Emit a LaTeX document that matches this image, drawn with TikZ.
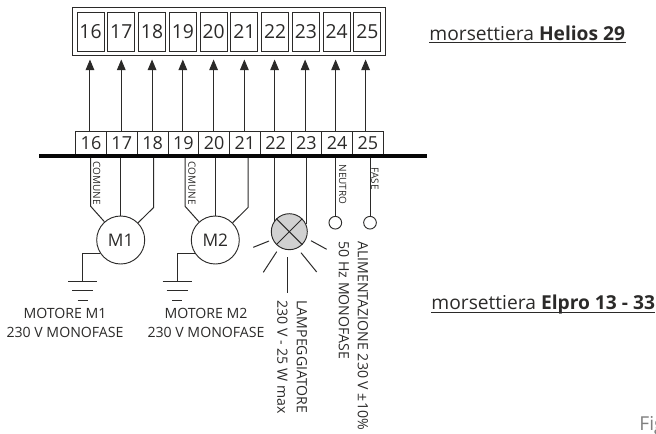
\documentclass[tikz,border=0pt]{standalone}
\usepackage{fontspec}
\setmainfont{Open Sans}
\usetikzlibrary{arrows.meta,fit,positioning}
\definecolor{ink}{HTML}{2B2A29}
\begin{document}
\begin{tikzpicture}[x=0.75pt,y=-0.75pt,node distance=23.08pt,color=ink,line width=0.7pt,
    topbox/.style={draw,inner sep=0pt,minimum width=20.25pt,minimum height=29.25pt,font=\fontsize{14.5}{14.5}\selectfont},
    lowbox/.style={draw,line width=0.5pt,inner sep=0pt,minimum width=23.08pt,minimum height=18pt,font=\fontsize{13.5}{13.5}\selectfont},
    wire/.style={line width=0.75pt},
    tip/.style={-{Triangle[length=8pt,width=6.5pt]},shorten >=6pt},
    motor/.style={draw,circle,inner sep=0pt,minimum size=36pt,font=\fontsize{13}{13}\selectfont},
    pole/.style={draw,circle,inner sep=0pt,minimum size=9.5pt},
    small/.style={rotate=-90,anchor=west,inner sep=0pt,font=\fontsize{7.5}{7.5}\selectfont},
    side/.style={rotate=-90,anchor=west,inner sep=0pt,font=\fontsize{10.6}{10.6}\selectfont},
    caption/.style={align=center,font=\fontsize{10.6}{14.2}\selectfont},
    title/.style={anchor=base west,inner sep=0pt,font=\fontsize{14.4}{14.4}\selectfont}]
  \useasboundingbox (0,0) rectangle (656,433);
  \node [topbox] (t16) at (90.5,31.5) {16};
  \node [lowbox] (b16) at (91,143) {16};
  \foreach \n [remember=\n as \p (initially 16)] in {17,...,25} {
    \node [topbox, right of=t\p] (t\n) {\n};
    \node [lowbox, right of=b\p] (b\n) {\n};
  }
  \node [draw, fit=(t16)(t25), inner sep=3pt] (helios) {};
  \foreach \n/\d in {16/-0.4,17/0,18/0,19/0,20/0,21/0,22/-0.4,23/-0.6,24/-0.8,25/-1.4}
    \draw [wire, tip] ([xshift=\d pt]t\n.south |- b\n.north) -- ([xshift=\d pt]t\n.south);

  \node [motor] (M1) at (120.7,240) {M1};
  \node [motor] (M2) at (215.3,240) {M2};
  \node [draw, circle, fill=black!18, inner sep=0pt, minimum size=27pt] (lamp) at (289.3,231.7) {};
  \node [pole] (n24) at (335.3,222.7) {};
  \node [pole] (n25) at (370,222.7) {};

  \draw [wire] (b16.south) ++(-0.3,0) -- ++(0,51) -- (M1);
  \draw [wire] (M1.north |- b17.south) -- (M1.north);
  \draw [wire] (b18.south) ++(1.2,0) -- ++(0,52) -- (M1);
  \draw [wire] (b19.south) ++(1.8,0) -- ++(0,51) -- (M2);
  \draw [wire] (M2.north |- b20.south) -- (M2.north);
  \draw [wire] (b21.south) ++(3.3,0) -- ++(0,52) -- (M2);
  \draw [wire] (lamp.145 |- b22.south) -- (lamp.145);
  \draw [wire] (lamp.24 |- b23.south) -- (lamp.24);
  \draw [wire] (n24.north |- b24.south) -- (n24.north);
  \draw [wire] (n25.north |- b25.south) -- (n25.north);

  \draw (lamp.45) -- (lamp.225);
  \draw (lamp.135) -- (lamp.315);
  \foreach \xa/\ya/\xb/\yb in {253.3/247.3/269/241, 263.3/272.3/276.7/251.7, 287.3/292.7/287.3/256.7,
      316.7/272/301/252.7, 326.7/249.3/311/240.7}
    \draw [wire] (\xa,\ya) -- (\xb,\yb);

  \coordinate (g1) at (82.7,281.7);
  \coordinate (g2) at (177.3,281.7);
  \draw [wire] (M1.214) -| (g1);
  \draw [wire] (M2.214) -| (g2);
  \foreach \g in {g1,g2} {
    \draw [wire] ([xshift=-11pt]\g) -- ([xshift=11pt]\g);
    \draw [wire] ([xshift=-8pt,yshift=-6.4pt]\g) -- ([xshift=8pt,yshift=-6.4pt]\g);
    \draw [wire] ([xshift=-3.8pt,yshift=-14pt]\g) -- ([xshift=3.8pt,yshift=-14pt]\g);
  }

  \coordinate (barl) at (39,156);
  \coordinate (barr) at (426.7,156);
  \draw [line width=2.7pt, black!85!ink] (barl) -- (barr);

  \node [small] (com1) at (96.7,161) {COMUNE};
  \node [small] (com2) at (192,161) {COMUNE};
  \node [small] (neutro) at (342.7,164) {NEUTRO};
  \node [small] (fase) at (375,167) {FASE};

  \node [side] (lampeg) at (302,300) {LAMPEGGIATORE};
  \node [side] (watt) at (282.5,300) {230 V - 25 W max};
  \node [side] (hertz) at (344,241) {50 Hz MONOFASE};
  \node [side] (alim) at (363,241) {ALIMENTAZIONE 230 V ±10\%};
  \node [caption] (capm1) at (65,322.5) {MOTORE M1\\230 V MONOFASE};
  \node [caption] (capm2) at (206,322.5) {MOTORE M2\\230 V MONOFASE};

  \node [title] (hel) at (429,40) {morsettiera \textbf{Helios 29}};
  \node [title] (elp) at (431,309.5) {morsettiera \textbf{Elpro 13 - 33}};
  \draw [wire] ([yshift=-2pt]hel.base west) -- ([yshift=-2pt]hel.base east);
  \draw [wire] ([yshift=-2pt]elp.base west) -- ([yshift=-2pt]elp.base east);
  \node [title, text=black!50] (fig) at (639,430) {Fig};
\end{tikzpicture}
\end{document}
